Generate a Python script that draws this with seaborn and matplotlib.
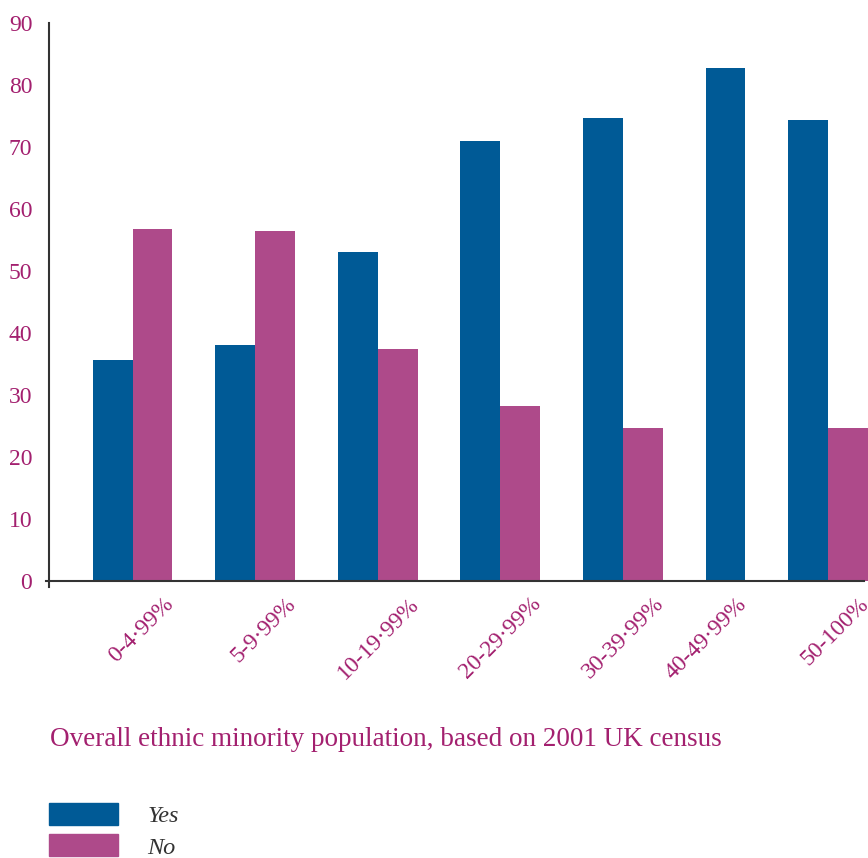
import matplotlib
matplotlib.use("Agg")
import matplotlib.pyplot as plt
import matplotlib.transforms as mtransforms
import numpy as np
import pandas as pd
import seaborn as sns

categories = ["0-4·99%", "5-9·99%", "10-19·99%", "20-29·99%", "30-39·99%", "40-49·99%", "50-100%"]
yes_values = [35.6, 38.0, 53.0, 71.0, 74.6, 82.8, 74.4]
no_values = [56.7, 56.4, 37.4, 28.3, 24.6, np.nan, 24.6]
series_names = ["Yes", "No"]
y_ticks = [0, 10, 20, 30, 40, 50, 60, 70, 80, 90]
x_title = "Overall ethnic minority population, based on 2001 UK census"

BLUE = "#005a96"
MAGENTA = "#ae4a8a"
TEXT = "#a3206f"

sns.set_theme(style="white")
plt.rcParams["font.family"] = ["Liberation Serif", "DejaVu Serif"]

# Layout: bars packed side by side within a group, a fixed gap between groups;
# a group without a value for a series simply has no bar (as in the original).
GROUP_GAP = 1.08
rows = []
label_pos = []
pos = 0.0
for cat, yv, nv in zip(categories, yes_values, no_values):
    for name, val in zip(series_names, (yv, nv)):
        if not np.isnan(val):
            rows.append({"pos": pos, "value": val, "series": name, "category": cat})
            pos += 1.0
    label_pos.append(pos - 0.5)
    pos += GROUP_GAP
df = pd.DataFrame(rows)

W, H = 868, 858
fig = plt.figure(figsize=(W / 100, H / 100), dpi=100)
ax_left, ax_right, ax_top, ax_bottom = 49, 868, 23, 581
ax = fig.add_axes([ax_left / W, 1 - ax_bottom / H, (ax_right - ax_left) / W, (ax_bottom - ax_top) / H])

sns.barplot(data=df, x="pos", y="value", hue="series", hue_order=series_names,
            palette=[BLUE, MAGENTA], native_scale=True, dodge=False, width=1.0,
            saturation=1, errorbar=None, linewidth=0, ax=ax, legend=False)

ax.set_ylim(0, 90)
ax.set_xlim(-1.6, 18.88)
ax.set_yticks(y_ticks)
ax.set_yticklabels([str(v) for v in y_ticks], color=TEXT, fontsize=17)
ax.tick_params(axis="both", length=0)
ax.tick_params(axis="y", pad=12)
ax.set_xlabel("")
ax.set_ylabel("")

ax.set_xticks(label_pos)
ax.set_xticklabels(categories, rotation=45, ha="right", va="center",
                   rotation_mode="anchor", color=TEXT, fontsize=17)
offset = mtransforms.ScaledTranslation(-2 / 100, -15 / 100, fig.dpi_scale_trans)
for lbl in ax.get_xticklabels():
    lbl.set_transform(lbl.get_transform() + offset)

for s in ["top", "right"]:
    ax.spines[s].set_visible(False)
for s in ["left", "bottom"]:
    ax.spines[s].set_color("#333333")
    ax.spines[s].set_linewidth(1.5)
ax.spines["left"].set_bounds(-1, 90)
ax.spines["bottom"].set_bounds(-1.68, 18.88)

fig.text(50 / W, 1 - 739 / H, x_title, color=TEXT, fontsize=19.5, va="center", ha="left")

handles = [plt.Rectangle((0, 0), 1, 1, color=BLUE), plt.Rectangle((0, 0), 1, 1, color=MAGENTA)]
leg = fig.legend(handles, series_names, loc="upper left",
                 bbox_to_anchor=(49 / W, 1 - 803 / H), frameon=False,
                 prop={"style": "italic", "size": 17.5}, handlelength=2.85, handleheight=1.0,
                 handletextpad=1.2, labelspacing=0.3, borderaxespad=0, borderpad=0)
for t in leg.get_texts():
    t.set_color("#333333")

fig.savefig("out.png", dpi=100)
